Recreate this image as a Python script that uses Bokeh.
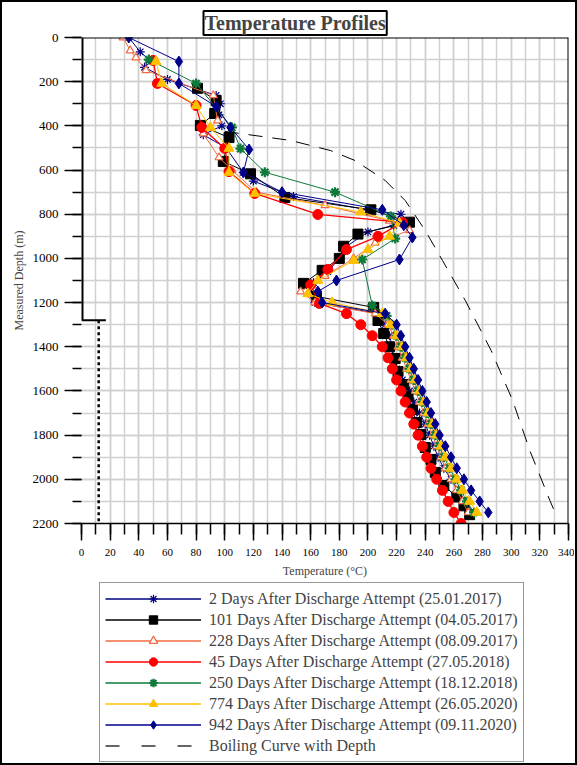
from bokeh.plotting import figure
from bokeh.layouts import column
from bokeh.models import Range1d, SingleIntervalTicker, Span, Legend, LegendItem
from bokeh.embed import file_html
from bokeh.resources import INLINE

FONT = "Liberation Serif"

DEEP18 = [1300, 1350, 1400, 1450, 1500, 1550, 1600, 1650, 1700, 1750, 1800, 1850, 1900, 1950, 2000, 2050, 2100, 2150]

# ---- 2 Days After Discharge Attempt (25.01.2017)
d_2days = [0, 65, 100, 135, 190, 262, 300, 350, 400, 440, 500, 611, 650, 720, 780, 800, 850, 880, 950, 1000,
           1060, 1110, 1160, 1200, 1250] + DEEP18
t_2days = [33, 41, 47, 44, 60, 94, 97, 96, 98, 85, 101, 113, 120, 148, 200, 223, 218, 200, 184, 180,
           172, 162, 160, 163, 208,
           212, 215, 217, 218, 220, 224, 229, 232, 236, 240, 243, 246, 249, 253, 258, 263, 268, 274]

# ---- 101 Days (04.05.2017)
d_101 = [230, 285, 344, 398, 453, 561, 617, 724, 780, 836, 890, 945, 1000, 1054, 1113, 1172, 1222, 1281, 1340,
         1400, 1453, 1512, 1571, 1625, 1684, 1743, 1797, 1856, 1910, 1969, 2028, 2080, 2120, 2160]
t_101 = [81, 94, 93, 83, 103, 99, 118, 142, 202, 229, 193, 183, 180, 168, 155, 164, 204, 207, 211,
         215, 219, 221, 225, 228, 231, 234, 237, 240, 244, 247, 253, 262, 267, 271]

# ---- 228 Days (08.09.2017)
d_228 = [0, 59, 91, 149, 262, 376, 435, 543, 600, 700, 760, 830, 873, 930, 1000, 1080, 1150, 1200, 1250] + DEEP18
t_228 = [29, 34, 38, 45, 92, 95, 85, 96, 105, 122, 170, 215, 229, 205, 190, 170, 153, 163, 205,
         214, 218, 221, 224, 227, 230, 233, 236, 239, 242, 245, 248, 251, 254, 258, 262, 266, 270]

# ---- 45 Days (27.05.2018)
d_45 = [104, 208, 308, 407, 502, 607, 706, 801, 837, 900, 960, 1050, 1120, 1204, 1250,
        1300, 1350, 1400, 1450, 1500, 1550, 1600, 1650, 1700, 1750, 1800, 1850, 1900, 1950, 2000, 2050, 2100, 2150, 2200]
t_45 = [50, 53, 80, 84, 100, 103, 121, 165, 224, 207, 185, 172, 160, 166, 185,
        195, 203, 210, 214, 217, 220, 223, 226, 229, 232, 235, 238, 241, 244, 248, 252, 256, 260, 265]

# ---- 250 Days (18.12.2018)
d_250 = [100, 208, 407, 503, 610, 700, 810, 910, 1005, 1213, 1260] + DEEP18
t_250 = [47, 80, 105, 111, 128, 177, 216, 219, 196, 203, 213,
         217, 220, 223, 226, 229, 232, 235, 238, 241, 244, 247, 250, 253, 257, 261, 265, 269, 274]

# ---- 774 Days (26.05.2020)
d_774 = [109, 208, 308, 407, 502, 611, 706, 790, 840, 900, 960, 1010, 1100, 1160, 1200, 1250] + DEEP18
t_774 = [52, 56, 80, 90, 103, 103, 121, 195, 222, 215, 200, 190, 165, 158, 175, 210,
         216, 220, 224, 227, 230, 233, 236, 239, 242, 245, 248, 251, 254, 258, 262, 266, 271, 276]

# ---- 942 Days (09.11.2020)
d_942 = [0, 109, 208, 312, 407, 507, 611, 700, 780, 850, 905, 1005, 1100, 1150, 1200, 1250] + DEEP18
t_942 = [33, 68, 68, 94, 104, 117, 113, 140, 210, 225, 231, 222, 178, 165, 168, 212,
         220, 223, 226, 229, 232, 235, 238, 241, 244, 247, 250, 254, 258, 262, 267, 272, 278, 284]

# ---- Boiling curve with depth
d_boil = [425, 466, 512, 557, 647, 738, 874, 1009, 1191, 1417, 1643, 1870, 2096, 2141]
t_boil = [100, 146, 174, 191, 212, 226, 240, 252, 268, 286, 301, 313, 327, 330]

# ---- well sketch
casing_temp = 0
casing_top = 0
casing_shoe = 1280
shoe_mark_temp = 17
liner_temp = 12
total_depth = 2200

labels = [
    "2 Days After Discharge Attempt (25.01.2017)",
    "101 Days After Discharge Attempt (04.05.2017)",
    "228 Days After Discharge Attempt (08.09.2017)",
    "45 Days After Discharge Attempt (27.05.2018)",
    "250 Days After Discharge Attempt (18.12.2018)",
    "774 Days After Discharge Attempt (26.05.2020)",
    "942 Days After Discharge Attempt (09.11.2020)",
    "Boiling Curve with Depth",
]

p = figure(frame_width=487, frame_height=486,
           x_range=Range1d(0, 340), y_range=Range1d(2200, 0),
           output_backend="svg", toolbar_location=None,
           min_border_left=79, min_border_right=6, min_border_top=35, min_border_bottom=58)
p.outline_line_color = None
p.background_fill_color = "white"

# title
p.title.text = "Temperature Profiles"
p.title.text_font = FONT
p.title.text_font_size = "20px"
p.title.text_font_style = "bold"
p.title.align = "left"
p.title.offset = 122
p.title.standoff = 5
p.title.border_line_color = "black"
p.title.border_line_width = 2
p.title.padding = 1

# axes
p.xaxis.ticker = SingleIntervalTicker(interval=20, num_minor_ticks=2)
p.yaxis.ticker = SingleIntervalTicker(interval=200, num_minor_ticks=2)
for ax in (p.xaxis[0], p.yaxis[0]):
    ax.major_tick_in = 0
    ax.minor_tick_in = 0
    ax.major_tick_line_color = "black"
    ax.minor_tick_line_color = "black"
    ax.major_tick_line_width = 1.5
    ax.minor_tick_line_width = 1.5
    ax.major_label_text_font = FONT
    ax.axis_label_text_font = FONT
    ax.axis_label_text_font_style = "normal"
    ax.axis_label_text_font_size = "12px"
    ax.major_label_text_color = "black"
p.xaxis.major_tick_out = 17
p.xaxis.minor_tick_out = 11
p.xaxis.major_label_text_font_size = "11px"
p.xaxis.axis_label = "Temperature (°C)"
p.xaxis.axis_line_color = "black"
p.xaxis.axis_line_width = 1.5
p.xaxis.major_label_standoff = 8
p.xaxis.axis_label_standoff = 5

p.yaxis.major_tick_out = 17
p.yaxis.minor_tick_out = 9
p.yaxis.major_label_text_font_size = "13px"
p.yaxis.axis_label = "Measured Depth (m)"
p.yaxis.axis_line_color = None
p.yaxis.major_label_standoff = 6
p.yaxis.axis_label_standoff = 4

for g in (p.xgrid[0], p.ygrid[0]):
    g.grid_line_color = "#d0d0d0"
    g.grid_line_width = 1.5
    g.minor_grid_line_color = "#d0d0d0"
    g.minor_grid_line_width = 1.5

# frame lines top and right
p.add_layout(Span(location=0, dimension="width", line_color="black", line_width=2))
p.add_layout(Span(location=340, dimension="height", line_color="black", line_width=2))

# well sketch
p.segment(x0=[casing_temp], y0=[casing_top], x1=[casing_temp], y1=[casing_shoe], line_color="black", line_width=4)
p.segment(x0=[casing_temp], y0=[casing_shoe], x1=[shoe_mark_temp], y1=[casing_shoe], line_color="black", line_width=2)
p.segment(x0=[liner_temp], y0=[casing_shoe], x1=[liner_temp], y1=[total_depth], line_color="black",
          line_width=2.5, line_dash="3 3")

# legend panel: a second figure whose view range shows none of the data, so only its legend key is seen
q = figure(width=573, height=182, output_backend="svg", toolbar_location=None,
           x_range=Range1d(1000, 1001), y_range=Range1d(1000, 1001),
           x_axis_location=None, y_axis_location=None,
           min_border_left=0, min_border_right=0, min_border_top=0, min_border_bottom=0)
q.outline_line_color = None
q.xgrid.visible = False
q.ygrid.visible = False

styles = [
    (t_2days, d_2days, "#000080", "asterisk", 9, "#000080", 1.2, 1.0),
    (t_101, d_101, "black", "square", 10, "black", 1.0, 1.0),
    (t_228, d_228, "#F26A43", "triangle", 8, "white", 1.2, 1.0),
    (t_45, d_45, "#FF0000", "circle", 10, "#FF0000", 1.0, 1.3),
    (t_250, d_250, "#0E7A3A", "asterisk", 10, "#0E7A3A", 2.2, 1.0),
    (t_774, d_774, "#FFC000", "triangle", 10, "#FFC000", 1.0, 1.0),
    (t_942, d_942, "#00008B", "diamond", 11, "#00008B", 1.0, 1.0),
]
items = []
for (t, d, col, mk, sz, fill, mlw, llw), lab in zip(styles, labels[:7]):
    p.line(t, d, line_color=col, line_width=llw)
    p.scatter(t, d, marker=mk, size=sz, line_color=col, fill_color=fill, line_width=mlw)
    kl = q.line(t, d, line_color=col, line_width=llw + 0.3)
    ks = q.scatter(t, d, marker=mk, size=sz + 2, line_color=col, fill_color=fill, line_width=mlw)
    items.append(LegendItem(label=lab, renderers=[kl, ks]))

p.line(t_boil, d_boil, line_color="black", line_width=1, line_dash="14 10")
kb = q.line(t_boil, d_boil, line_color="#333333", line_width=1.3, line_dash="14 22")
items.append(LegendItem(label=labels[7], renderers=[kb]))

legend = Legend(items=items, location=(18, 1), orientation="vertical",
                label_text_font=FONT, label_text_font_size="16px",
                glyph_width=96, glyph_height=21, label_height=21, label_standoff=8,
                spacing=0, padding=5, margin=0,
                border_line_color="#333333", border_line_width=1.5)
q.add_layout(legend, "center")

layout = column(p, q, spacing=0)
layout.styles = {"border": "2px solid black"}

open("out.html", "w").write(file_html(layout, INLINE))
